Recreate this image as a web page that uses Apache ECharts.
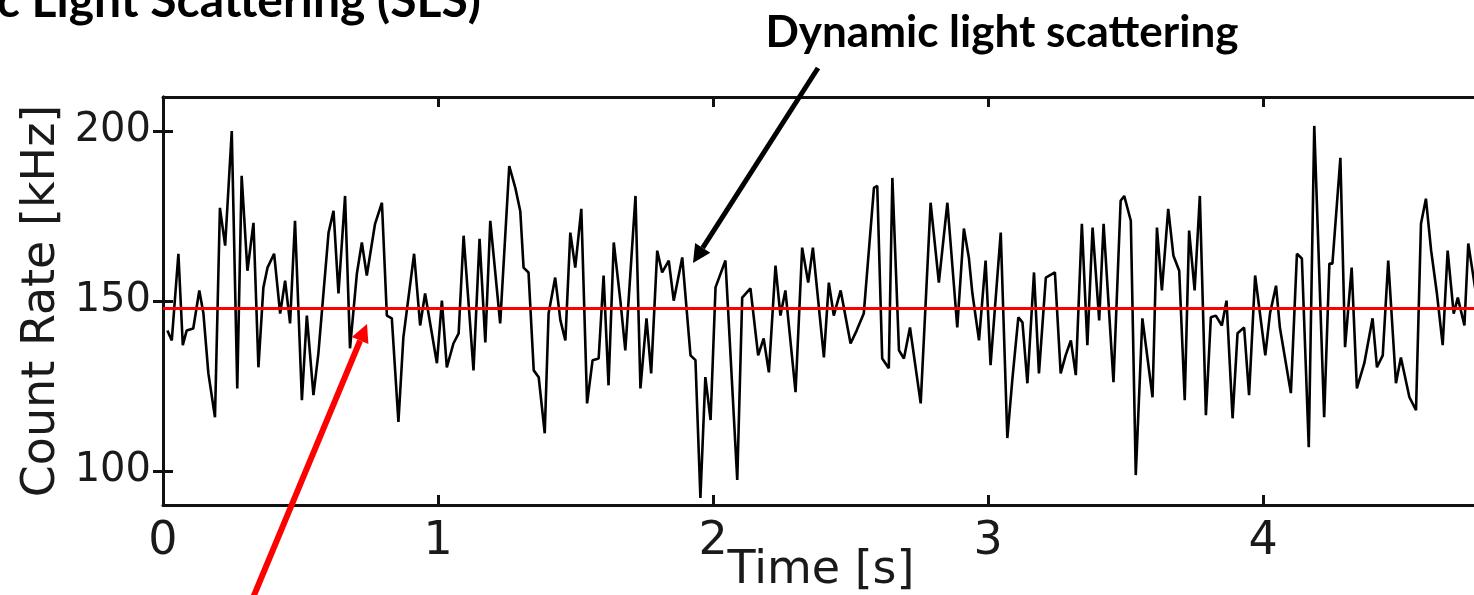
<!DOCTYPE html>
<html>
<head>
<meta charset="UTF-8">
<title>Count Rate</title>
<script src="https://cdn.jsdelivr.net/npm/echarts@6/dist/echarts.min.js"></script>
<style>
  html, body { margin: 0; padding: 0; background: #fff; }
  #chart { width: 1474px; height: 595px; }
</style>
</head>
<body>
<div id="chart"></div>
<script>
// time [s] and count rate [kHz]
var times = [
  0.016,0.032,0.056,0.072,0.086,0.110,0.132,0.147,0.165,0.189,0.207,0.226,0.250,0.270,0.286,0.307,0.329,0.347,0.365,0.380,
  0.404,0.426,0.444,0.462,0.480,0.505,0.523,0.547,0.565,0.602,0.620,0.638,0.662,0.680,0.705,0.723,0.741,0.771,0.796,0.814,
  0.832,0.856,0.874,0.913,0.935,0.953,0.996,1.014,1.032,1.056,1.075,1.093,1.129,1.151,1.172,1.190,1.226,1.259,
  1.281,1.299,1.311,1.329,1.348,1.366,1.388,1.402,1.426,1.445,1.463,1.481,1.499,1.521,1.542,1.562,1.584,1.602,1.620,1.639,1.663,1.681,
  1.718,1.736,1.758,1.775,1.797,1.815,1.839,1.857,1.888,1.918,1.936,1.954,1.972,1.991,2.009,2.045,2.088,
  2.106,2.136,2.164,2.184,2.203,2.227,2.245,2.263,2.300,2.324,2.346,2.363,2.403,2.421,2.439,2.464,2.500,2.522,
  2.548,2.585,2.597,2.615,2.639,2.652,2.676,2.694,2.716,2.755,2.791,2.821,2.852,2.888,2.912,2.930,
  2.943,2.967,2.991,3.009,3.046,3.070,3.088,3.110,3.125,3.143,3.167,3.185,3.210,3.243,3.264,3.282,3.301,3.319,3.341,
  3.361,3.380,3.404,3.420,3.456,3.482,3.495,3.519,3.537,3.561,3.598,3.614,3.632,3.655,3.674,3.695,3.715,3.731,3.751,3.770,
  3.792,3.810,3.828,3.850,3.867,3.889,3.907,3.931,3.949,3.971,4.008,4.025,4.047,4.061,4.101,4.123,4.141,4.166,4.186,4.222,4.241,4.252,4.281,
  4.298,4.322,4.341,4.368,4.398,4.414,4.435,4.455,4.483,4.501,4.532,4.556,4.574,4.592,4.611,4.632,4.653,4.671,4.693,4.708,4.732,4.746,4.778
];
var counts = [
  141.3,138.4,163.9,137.0,141.3,141.9,153.1,146.3,128.7,115.8,177.4,166.3,200.0,124.3,186.8,158.9,173.0,130.5,154.0,159.8,
  163.9,146.3,156.0,143.4,173.6,120.8,145.7,122.3,134.6,170.1,176.5,152.2,180.9,136.1,158.1,167.2,157.5,172.7,178.9,145.7,
  144.9,114.4,139.3,163.9,142.8,152.2,131.7,150.1,130.5,137.5,140.5,169.2,129.6,168.3,137.8,173.6,143.4,189.7,
  183.3,176.5,159.8,158.4,129.6,127.6,111.1,146.3,156.9,144.3,138.4,170.1,159.8,177.1,119.9,132.6,133.1,157.5,125.2,167.2,150.1,135.5,
  180.9,124.3,144.9,128.7,164.8,158.4,161.9,150.1,162.8,134.0,132.6,92.1,127.6,115.0,154.0,161.9,97.4,
  151.0,153.7,134.0,139.0,129.0,160.4,145.7,153.1,123.2,165.7,155.4,165.7,133.4,155.4,145.7,153.1,137.5,141.3,
  146.3,183.3,183.9,133.1,130.2,186.2,135.5,133.1,142.2,119.9,178.9,155.4,178.9,142.2,171.3,162.8,
  152.2,138.4,161.9,131.1,170.1,109.7,126.7,145.2,143.7,125.8,158.4,128.7,156.9,158.4,128.7,134.0,138.4,128.2,172.7,
  137.0,171.6,144.3,172.7,126.1,179.5,180.9,173.6,98.8,144.9,121.7,171.6,153.1,177.1,163.3,158.9,120.8,170.7,153.1,180.9,
  116.4,145.2,145.7,142.8,150.1,115.5,140.5,142.2,122.3,157.5,134.0,146.3,154.5,142.2,122.9,163.9,162.5,107.0,201.5,115.8,161.0,161.0,192.1,
  136.4,159.8,124.3,131.7,144.9,130.5,134.0,161.9,125.8,133.4,121.7,117.9,172.7,180.1,164.8,152.2,137.0,164.8,146.3,151.0,142.8,166.9,150.1
];
var meanRate = 148;
var yTicks = [100, 150, 200];
var xMin = 0, xMax = 4.785, yMin = 90, yMax = 210;

var chart = echarts.init(document.getElementById('chart'));

var seriesData = [];
for (var i = 0; i < times.length; i++) {
  seriesData.push([times[i], counts[i]]);
}

var labelFont = { fontFamily: 'DejaVu Sans', fontSize: 46, color: '#1a1a1a' };
var spine = { show: true, lineStyle: { color: '#111', width: 3 } };
var tick = { show: true, inside: true, length: 10, lineStyle: { color: '#111', width: 3 } };

var option = {
  animation: false,
  backgroundColor: '#fff',
  grid: { left: 163, top: 97, width: 1316, height: 408, outerBoundsMode: 'none' },
  xAxis: [
    {
      type: 'value', min: xMin, max: xMax, interval: 1,
      axisLine: spine, axisTick: tick, splitLine: { show: false },
      axisLabel: Object.assign({ margin: 14, showMaxLabel: false }, labelFont),
      name: 'Time [s]', nameLocation: 'middle', nameGap: 43, nameMoveOverlap: false,
      nameTextStyle: labelFont
    },
    {
      type: 'value', position: 'top', min: xMin, max: xMax, interval: 1,
      axisLine: spine, axisTick: tick, splitLine: { show: false },
      axisLabel: { show: false }
    }
  ],
  yAxis: [
    {
      type: 'value', min: yMin, max: yMax,
      axisLine: spine,
      axisTick: Object.assign({ customValues: yTicks }, tick),
      splitLine: { show: false },
      axisLabel: Object.assign({ margin: 12, customValues: yTicks }, labelFont, { fontSize: 40 }),
      name: 'Count Rate [kHz]', nameLocation: 'middle', nameGap: 98, nameMoveOverlap: false,
      nameTextStyle: labelFont
    },
    {
      type: 'value', position: 'right', min: yMin, max: yMax,
      axisLine: spine,
      axisTick: Object.assign({ customValues: yTicks }, tick),
      splitLine: { show: false },
      axisLabel: { show: false }
    }
  ],
  series: [
    {
      type: 'line',
      data: seriesData,
      showSymbol: false,
      symbol: 'none',
      lineStyle: { color: '#000', width: 2.6 },
      z: 3,
      markLine: {
        silent: true,
        symbol: 'none',
        label: { show: false },
        lineStyle: { color: '#ff0000', width: 3, type: 'solid' },
        data: [{ yAxis: meanRate }]
      }
    }
  ],
  graphic: [
    {
      type: 'text', z: 10,
      style: {
        text: 'Static Light Scattering (SLS)', x: 481, y: 2,
        textAlign: 'right', align: 'right', textVerticalAlign: 'middle', verticalAlign: 'middle',
        font: 'bold 48px Lato', fill: '#000'
      }
    },
    {
      type: 'text', z: 10,
      style: {
        text: 'Dynamic light scattering', x: 1002, y: 33,
        textAlign: 'center', align: 'center', textVerticalAlign: 'middle', verticalAlign: 'middle',
        font: 'bold 44px Lato', fill: '#000'
      }
    },
    // black arrow
    { type: 'line', z: 10, shape: { x1: 818, y1: 68, x2: 702.7, y2: 247.8 }, style: { stroke: '#000', lineWidth: 5 } },
    { type: 'polygon', z: 10, shape: { points: [[693, 263], [710.3, 252.7], [695.1, 242.9]] }, style: { fill: '#000' } },
    // red arrow
    { type: 'line', z: 10, shape: { x1: 245, y1: 617, x2: 360.1, y2: 340.6 }, style: { stroke: '#ff0000', lineWidth: 6 } },
    { type: 'polygon', z: 10, shape: { points: [[367, 324], [368.4, 344.1], [351.8, 337.1]] }, style: { fill: '#ff0000' } }
  ]
};

chart.setOption(option);
</script>
</body>
</html>
